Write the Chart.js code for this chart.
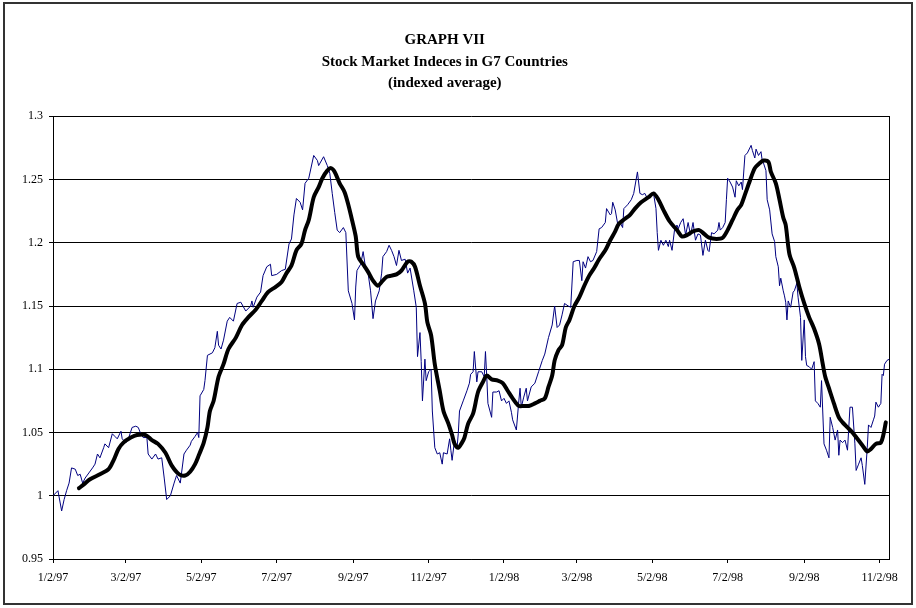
<!DOCTYPE html>
<html>
<head>
<meta charset="utf-8">
<title>GRAPH VII</title>
<script src="https://cdn.jsdelivr.net/npm/chart.js@4.4.1/dist/chart.umd.min.js"></script>
<style>
  body { margin: 0; background: #fff; }
  #wrap { position: relative; width: 916px; height: 608px; }
  #frame { position: absolute; left: 3px; top: 2px; width: 910px; height: 603px;
           border: 2px solid #333; box-sizing: border-box; pointer-events: none; }
</style>
</head>
<body>
<div id="wrap">
  <canvas id="chart" width="916" height="608"></canvas>
  <div id="frame"></div>
</div>
<script>
// days counted from 2 Jan 1997
const indexDays = [
  0, 4, 7, 9, 11, 13, 15, 18, 20, 22, 24, 26, 29, 32, 34, 36, 38, 41, 42, 45,
  48, 50, 52, 55, 56, 59, 61, 64, 67, 69, 71, 73, 76, 77, 80, 83, 85, 88, 90, 92,
  95, 98, 100, 103, 106, 108, 111, 112, 115, 117, 118, 119, 122, 123, 125, 129, 131, 133, 134, 136,
  138, 141, 143, 146, 149, 152, 156, 160, 161, 162, 165, 168, 170, 173, 176, 177, 181, 185, 188, 191,
  193, 195, 197, 200, 202, 204, 207, 211, 214, 215, 219, 222, 224, 226, 228, 230, 232, 235, 237, 239,
  242, 244, 245, 246, 249, 251, 253, 255, 257, 259, 261, 264, 266, 267, 270, 272, 274, 276, 278, 280,
  282, 285, 287, 289, 292, 294, 295, 297, 298, 299, 301, 302, 304, 306, 307, 309, 311, 313, 315, 316,
  319, 321, 322, 323, 325, 327, 328, 329, 332, 335, 337, 338, 340, 341, 343, 344, 347, 349, 350, 351,
  352, 355, 356, 359, 361, 363, 365, 367, 369, 371, 372, 375, 377, 378, 379, 381, 383, 384, 387, 390,
  393, 396, 398, 401, 404, 406, 408, 410, 412, 414, 417, 419, 421, 424, 426, 428, 429, 431, 433, 435,
  437, 440, 442, 444, 447, 448, 451, 452, 453, 455, 457, 459, 461, 462, 465, 468, 470, 473, 475, 477,
  479, 481, 483, 486, 488, 489, 490, 492, 494, 496, 498, 499, 501, 503, 505, 506, 508, 510, 512, 514,
  516, 518, 520, 522, 524, 526, 528, 530, 531, 533, 535, 538, 539, 540, 542, 544, 545, 546, 548, 550,
  552, 553, 555, 557, 558, 560, 562, 565, 566, 568, 569, 571, 573, 574, 575, 577, 578, 580, 582, 584,
  585, 587, 588, 589, 591, 592, 593, 594, 595, 597, 599, 600, 602, 603, 605, 606, 608, 609, 610, 612,
  614, 616, 617, 619, 621, 622, 624, 626, 628, 629, 631, 633, 635, 636, 637, 639, 641, 643, 645, 647,
  649, 650, 652, 654, 655, 657, 659, 660, 662, 664, 665, 666, 668, 670, 671, 672, 673, 675, 677
];
const indexValues = [
  1.000, 1.004, 0.988, 0.997, 1.004, 1.010, 1.022, 1.021, 1.016, 1.017, 1.010, 1.014, 1.018, 1.022, 1.025, 1.033, 1.030, 1.038, 1.041, 1.038,
  1.049, 1.047, 1.045, 1.051, 1.045, 1.042, 1.045, 1.054, 1.055, 1.054, 1.049, 1.046, 1.046, 1.033, 1.029, 1.033, 1.029, 1.030, 1.014, 0.997,
  1.000, 1.010, 1.016, 1.010, 1.033, 1.036, 1.040, 1.043, 1.047, 1.050, 1.046, 1.079, 1.084, 1.091, 1.111, 1.113, 1.117, 1.130, 1.119, 1.116,
  1.123, 1.138, 1.141, 1.138, 1.152, 1.153, 1.146, 1.150, 1.154, 1.149, 1.157, 1.161, 1.174, 1.181, 1.183, 1.174, 1.175, 1.178, 1.179, 1.199,
  1.203, 1.222, 1.235, 1.232, 1.226, 1.247, 1.251, 1.269, 1.265, 1.261, 1.268, 1.261, 1.255, 1.239, 1.224, 1.210, 1.208, 1.212, 1.208, 1.162,
  1.152, 1.139, 1.165, 1.178, 1.183, 1.193, 1.180, 1.176, 1.162, 1.140, 1.154, 1.162, 1.176, 1.189, 1.193, 1.198, 1.194, 1.189, 1.182, 1.194,
  1.186, 1.187, 1.176, 1.180, 1.162, 1.149, 1.110, 1.129, 1.106, 1.075, 1.108, 1.091, 1.098, 1.100, 1.067, 1.038, 1.033, 1.034, 1.025, 1.034,
  1.033, 1.045, 1.036, 1.028, 1.044, 1.038, 1.049, 1.067, 1.075, 1.083, 1.089, 1.096, 1.098, 1.114, 1.090, 1.098, 1.098, 1.094, 1.114, 1.095,
  1.073, 1.062, 1.082, 1.082, 1.083, 1.075, 1.077, 1.073, 1.075, 1.066, 1.060, 1.052, 1.075, 1.085, 1.070, 1.078, 1.085, 1.075, 1.086, 1.089,
  1.098, 1.107, 1.112, 1.125, 1.135, 1.150, 1.133, 1.135, 1.143, 1.152, 1.150, 1.149, 1.185, 1.186, 1.186, 1.170, 1.185, 1.180, 1.189, 1.185,
  1.186, 1.193, 1.211, 1.212, 1.216, 1.227, 1.222, 1.223, 1.232, 1.226, 1.215, 1.216, 1.212, 1.227, 1.230, 1.234, 1.239, 1.256, 1.239, 1.238,
  1.239, 1.235, 1.238, 1.239, 1.227, 1.208, 1.194, 1.202, 1.198, 1.202, 1.197, 1.202, 1.194, 1.210, 1.214, 1.211, 1.216, 1.219, 1.206, 1.216,
  1.206, 1.216, 1.202, 1.207, 1.206, 1.190, 1.202, 1.194, 1.193, 1.208, 1.207, 1.210, 1.216, 1.210, 1.212, 1.216, 1.234, 1.251, 1.248, 1.244,
  1.236, 1.249, 1.245, 1.248, 1.242, 1.269, 1.271, 1.277, 1.273, 1.267, 1.274, 1.269, 1.272, 1.265, 1.263, 1.257, 1.234, 1.226, 1.207, 1.201,
  1.189, 1.181, 1.166, 1.172, 1.162, 1.158, 1.153, 1.139, 1.154, 1.149, 1.161, 1.162, 1.168, 1.157, 1.141, 1.107, 1.139, 1.110, 1.103, 1.102,
  1.100, 1.106, 1.075, 1.073, 1.070, 1.091, 1.041, 1.036, 1.030, 1.062, 1.054, 1.044, 1.052, 1.032, 1.044, 1.042, 1.044, 1.036, 1.070, 1.070,
  1.041, 1.020, 1.025, 1.030, 1.024, 1.009, 1.038, 1.056, 1.054, 1.060, 1.063, 1.074, 1.070, 1.073, 1.096, 1.095, 1.104, 1.107, 1.108
];

// the thick smoothed line (moving average), also
const trendDays = [
  21, 25, 30, 38, 45, 49, 53, 57, 63, 68, 75, 80, 85, 91, 96, 102, 107, 111, 115, 118,
  122, 125, 127, 130, 134, 138, 142, 148, 153, 158, 164, 169, 174, 180, 185, 189, 193, 197, 201, 204,
  207, 211, 215, 218, 222, 225, 228, 232, 236, 239, 242, 245, 247, 251, 255, 259, 263, 266, 270, 274,
  278, 282, 287, 290, 293, 297, 301, 303, 306, 309, 313, 316, 320, 323, 325, 328, 331, 333, 336, 340,
  344, 348, 351, 355, 360, 364, 368, 372, 377, 381, 385, 390, 394, 398, 401, 404, 406, 409, 412, 415,
  418, 422, 426, 430, 434, 438, 442, 447, 451, 455, 458, 463, 467, 471, 476, 482, 486, 490, 494, 499,
  505, 509, 513, 518, 523, 527, 531, 537, 542, 546, 550, 554, 557, 560, 564, 568, 572, 575, 579, 581,
  585, 588, 591, 593, 596, 600, 604, 608, 612, 616, 620, 623, 625, 628, 632, 636, 639, 643, 647, 651,
  655, 659, 662, 666, 670, 672, 674
];
const trendValues = [
  1.006, 1.009, 1.013, 1.017, 1.021, 1.028, 1.037, 1.042, 1.046, 1.048, 1.048, 1.044, 1.041, 1.034, 1.024, 1.017, 1.016, 1.019, 1.025, 1.032,
  1.042, 1.054, 1.067, 1.075, 1.094, 1.104, 1.116, 1.125, 1.135, 1.141, 1.147, 1.154, 1.161, 1.165, 1.169, 1.176, 1.182, 1.194, 1.199, 1.210,
  1.218, 1.236, 1.244, 1.251, 1.257, 1.259, 1.256, 1.247, 1.240, 1.230, 1.218, 1.205, 1.189, 1.183, 1.177, 1.170, 1.166, 1.169, 1.173, 1.174,
  1.175, 1.178, 1.185, 1.185, 1.181, 1.166, 1.152, 1.137, 1.127, 1.104, 1.083, 1.067, 1.057, 1.048, 1.041, 1.038, 1.042, 1.046, 1.057, 1.065,
  1.082, 1.090, 1.095, 1.092, 1.091, 1.089, 1.083, 1.077, 1.071, 1.071, 1.071, 1.073, 1.075, 1.077, 1.086, 1.095, 1.107, 1.115, 1.119, 1.133,
  1.139, 1.150, 1.157, 1.166, 1.174, 1.180, 1.187, 1.194, 1.202, 1.209, 1.215, 1.219, 1.222, 1.227, 1.232, 1.236, 1.239, 1.234, 1.226, 1.217,
  1.210, 1.205, 1.206, 1.209, 1.210, 1.207, 1.204, 1.203, 1.204, 1.210, 1.218, 1.226, 1.230, 1.238, 1.249, 1.259, 1.263, 1.265, 1.264, 1.256,
  1.247, 1.234, 1.220, 1.214, 1.191, 1.180, 1.165, 1.152, 1.141, 1.132, 1.120, 1.104, 1.094, 1.085, 1.073, 1.062, 1.058, 1.054, 1.050, 1.045,
  1.040, 1.035, 1.037, 1.041, 1.042, 1.048, 1.058
];

// x axis labels, every two months
const tickLabels = ["1/2/97", "3/2/97", "5/2/97", "7/2/97", "9/2/97", "11/2/97",
  "1/2/98", "3/2/98", "5/2/98", "7/2/98", "9/2/98", "11/2/98"];

const titleLines = ["GRAPH VII", "Stock Market Indeces in G7 Countries", "(indexed average)"];

const serif = "'Liberation Serif', 'Times New Roman', serif";
const startDay = Date.UTC(1997, 0, 2);

// turn "m/d/yy" into days since 2 Jan 1997
function toDay(label) {
  const [m, d, y] = label.split("/").map(Number);
  return (Date.UTC(1900 + y, m - 1, d) - startDay) / 86400000;
}
const tickDays = tickLabels.map(toDay);

const ctx = document.getElementById("chart").getContext("2d");
const chart = new Chart(ctx, {
  type: "line",
  data: {
    datasets: [
      {
        label: "trend",
        data: trendDays.map((d, i) => ({ x: d, y: trendValues[i] })),
        borderColor: "#000",
        borderWidth: 4,
        borderJoinStyle: "round",
        borderCapStyle: "round",
        pointRadius: 0,
        tension: 0.3,
        order: 0, // drawn on top
      },
      {
        label: "index",
        data: indexDays.map((d, i) => ({ x: d, y: indexValues[i] })),
        borderColor: "#000080",
        borderWidth: 1,
        pointRadius: 0,
        tension: 0,
        order: 1,
      },
    ],
  },
  options: {
    responsive: false,
    animation: false,
    layout: { padding: { left: 0, right: 26.5, top: 0, bottom: 0 } },
    plugins: {
      legend: { display: false },
      tooltip: { enabled: false },
      title: {
        display: true,
        text: titleLines,
        color: "#000",
        font: { family: serif, size: 15, weight: "bold", lineHeight: 1.45 },
        padding: { top: 29, bottom: 22 },
      },
    },
    scales: {
      x: {
        type: "linear",
        min: 0,
        max: 677,
        afterBuildTicks: (axis) => {
          axis.ticks = tickDays.map((v) => ({ value: v }));
        },
        afterFit: (axis) => {
          axis.height = 49;
        },
        ticks: {
          autoSkip: false,
          maxRotation: 0,
          padding: 8,
          color: "#000",
          font: { family: serif, size: 12 },
          callback: (value, index) => tickLabels[index],
        },
        grid: { drawOnChartArea: false, tickLength: 4, color: "#000" },
        border: { color: "#000", width: 1 },
      },
      y: {
        min: 0.95,
        max: 1.3,
        afterFit: (axis) => {
          axis.width = 53;
        },
        ticks: {
          stepSize: 0.05,
          padding: 6,
          color: "#000",
          font: { family: serif, size: 12 },
          callback: (value) => String(Number(value.toFixed(2))),
        },
        grid: { color: "#000", tickLength: 4 },
        border: { color: "#000", width: 1 },
      },
      yRight: {
        position: "right",
        min: 0.95,
        max: 1.3,
        afterFit: (axis) => {
          axis.width = 0;
        },
        ticks: { display: false },
        grid: { drawOnChartArea: false, drawTicks: false },
        border: { color: "#000", width: 1 },
      },
    },
  },
});
</script>
</body>
</html>
